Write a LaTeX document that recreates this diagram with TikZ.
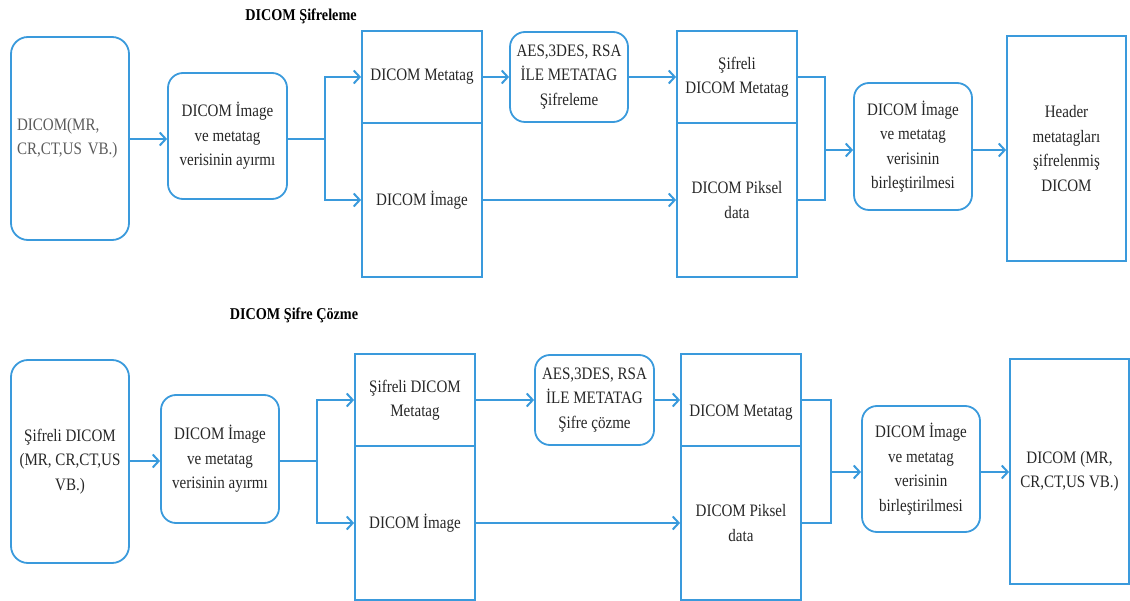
\documentclass[tikz,border=0pt]{standalone}
\usepackage{fontspec}
\setmainfont{Liberation Serif}[FakeStretch=0.86]
\usetikzlibrary{arrows.meta}
\definecolor{lineblue}{RGB}{58,154,220}
\definecolor{txt}{RGB}{38,38,38}
\definecolor{txtgray}{RGB}{90,90,90}
\begin{document}
\begin{tikzpicture}[x=1pt,y=-1pt,
  every node/.style={font=\fontsize{17.5}{24.5}\selectfont, text=txt},
  rbox/.style={draw=lineblue, line width=1.8pt, rounded corners=15pt, align=center, inner sep=0pt},
  sbox/.style={draw=lineblue, line width=1.8pt, align=center, inner sep=0pt},
  conn/.style={draw=lineblue, line width=2pt},
  arr/.style={draw=lineblue, line width=2pt, -{Straight Barb[length=6pt,width=13pt]}},
  title/.style={font=\bfseries\fontsize{16.5}{20}\selectfont, text=black}]
\useasboundingbox (0,0) rectangle (1130,601);

% ---------------- Top: DICOM Şifreleme ----------------
\node[title] (t1) at (301,16) {DICOM Şifreleme};

\node[rbox, rounded corners=17pt, minimum width=118pt, minimum height=203pt, text width=106pt, inner xsep=6pt, align=left, text=txtgray] (a1) at (70,138.5) {DICOM(MR,\\CR,CT,US VB.)};
\node[rbox, minimum width=119pt, minimum height=126pt] (b1) at (227.5,136) {DICOM İmage\\ve metatag\\verisinin ayırmı};
\node[sbox, minimum width=120pt, minimum height=92pt] (c1t) at (422,77) {DICOM Metatag};
\node[sbox, minimum width=120pt, minimum height=154pt] (c1b) at (422,200) {DICOM İmage};
\node[rbox, minimum width=118pt, minimum height=90pt] (d1) at (569,77) {AES,3DES, RSA\\İLE METATAG\\Şifreleme};
\node[sbox, minimum width=120pt, minimum height=92pt] (e1t) at (737,77) {Şifreli\\DICOM Metatag};
\node[sbox, minimum width=120pt, minimum height=154pt] (e1b) at (737,200) {DICOM Piksel\\data};
\node[rbox, minimum width=118pt, minimum height=127pt] (f1) at (913,146.5) {DICOM İmage\\ve metatag\\verisinin\\birleştirilmesi};
\node[sbox, minimum width=119pt, minimum height=225pt] (g1) at (1066.5,148.5) {Header\\metatagları\\şifrelenmiş\\DICOM};

\coordinate (s1) at (325,139);
\coordinate (m1) at (825,150);
\draw[arr] (a1.east |- s1) -- (b1.west |- s1);
\draw[conn] (b1.east |- s1) -- (s1);
\draw[arr] (s1) |- (c1t.west);
\draw[arr] (s1) |- (c1b.west);
\draw[arr] (c1t.east) -- (d1.west);
\draw[arr] (d1.east) -- (e1t.west);
\draw[arr] (c1b.east) -- (e1b.west);
\draw[conn] (e1t.east) -| (m1);
\draw[conn] (e1b.east) -| (m1);
\draw[arr] (m1) -- (f1.west |- m1);
\draw[arr] (f1.east |- m1) -- (g1.west |- m1);

% ---------------- Bottom: DICOM Şifre Çözme ----------------
\node[title] (t2) at (294,315) {DICOM Şifre Çözme};

\node[rbox, rounded corners=17pt, minimum width=118pt, minimum height=203pt] (a2) at (70,461.5) {Şifreli DICOM\\(MR, CR,CT,US\\VB.)};
\node[rbox, minimum width=118pt, minimum height=128pt] (b2) at (220,459) {DICOM İmage\\ve metatag\\verisinin ayırmı};
\node[sbox, minimum width=120pt, minimum height=92pt] (c2t) at (415,400) {Şifreli DICOM\\Metatag};
\node[sbox, minimum width=120pt, minimum height=154pt] (c2b) at (415,523) {DICOM İmage};
\node[rbox, minimum width=119pt, minimum height=90pt] (d2) at (594.5,400) {AES,3DES, RSA\\İLE METATAG\\Şifre çözme};
\node[sbox, minimum width=120pt, minimum height=92pt] (e2t) at (741,400) {\phantom{D}\\DICOM Metatag};
\node[sbox, minimum width=120pt, minimum height=154pt] (e2b) at (741,523) {DICOM Piksel\\data};
\node[rbox, minimum width=118pt, minimum height=126pt] (f2) at (921,469) {DICOM İmage\\ve metatag\\verisinin\\birleştirilmesi};
\node[sbox, minimum width=119pt, minimum height=225pt] (g2) at (1069.5,471.5) {DICOM (MR,\\CR,CT,US VB.)};

\coordinate (s2) at (317,461);
\coordinate (m2) at (831,472);
\draw[arr] (a2.east |- s2) -- (b2.west |- s2);
\draw[conn] (b2.east |- s2) -- (s2);
\draw[arr] (s2) |- (c2t.west);
\draw[arr] (s2) |- (c2b.west);
\draw[arr] (c2t.east) -- (d2.west);
\draw[arr] (d2.east) -- (e2t.west);
\draw[arr] (c2b.east) -- (e2b.west);
\draw[conn] (e2t.east) -| (m2);
\draw[conn] (e2b.east) -| (m2);
\draw[arr] (m2) -- (f2.west |- m2);
\draw[arr] (f2.east |- m2) -- (g2.west |- m2);
\end{tikzpicture}
\end{document}
